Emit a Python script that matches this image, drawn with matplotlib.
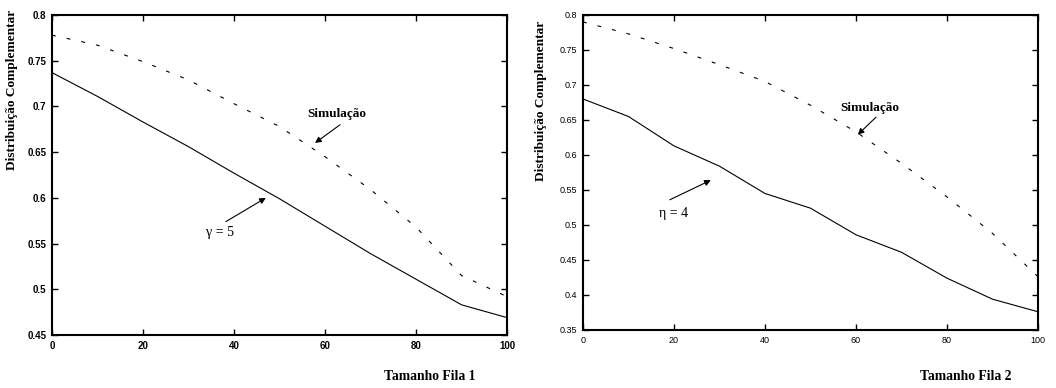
import matplotlib.pyplot as plt

# ===============================
# DATA
# ===============================
fila = [0, 10, 20, 30, 40, 50, 60, 70, 80, 90, 100]

modelo_fila1 = [0.737, 0.711, 0.683, 0.656, 0.627, 0.599, 0.569, 0.539, 0.511, 0.483, 0.469]
simul_fila1 = [0.778, 0.767, 0.749, 0.729, 0.703, 0.678, 0.645, 0.609, 0.568, 0.515, 0.492]

modelo_fila2 = [0.680, 0.655, 0.613, 0.584, 0.545, 0.524, 0.486, 0.461, 0.424, 0.394, 0.376]
simul_fila2 = [0.790, 0.773, 0.752, 0.729, 0.705, 0.671, 0.633, 0.588, 0.540, 0.488, 0.426]

yticks1 = [0.45, 0.5, 0.55, 0.6, 0.65, 0.7, 0.75, 0.8]
yticks2 = [0.35, 0.4, 0.45, 0.5, 0.55, 0.6, 0.65, 0.7, 0.75, 0.8]
xticks = [0, 20, 40, 60, 80, 100]

serif = "Liberation Serif"
sans = "Liberation Sans"

fig = plt.figure(figsize=(10.56, 3.88), dpi=100)
ax1 = fig.add_axes([0.0492, 0.1366, 0.431, 0.8247])
ax2 = fig.add_axes([0.552, 0.1495, 0.431, 0.812])


def style_axes(ax, yticks, ylim, bold, size):
    ax.set_xlim(0, 100)
    ax.set_ylim(*ylim)
    ax.set_xticks(xticks)
    ax.set_yticks(yticks)
    w = "bold" if bold else "normal"
    ax.set_xticklabels([str(t) for t in xticks], fontfamily=sans, fontweight=w, fontsize=size)
    ax.set_yticklabels([f"{t:g}" for t in yticks], fontfamily=sans, fontweight=w, fontsize=size)
    ax.tick_params(direction="in", top=True, right=True, length=4, width=1, pad=4)
    for s in ax.spines.values():
        s.set_linewidth(1.5)


def arrow(ax, tail, head):
    ax.annotate("", xy=head, xytext=tail,
                arrowprops=dict(arrowstyle="-|>", color="black", lw=0.8,
                                mutation_scale=9, shrinkA=0, shrinkB=0))


# ===============================
# LEFT PANEL
# ===============================
ax1.plot(fila, modelo_fila1, color="black", lw=0.8)
ax1.plot(fila, simul_fila1, color="black", lw=0.8, dashes=(3.5, 10))
style_axes(ax1, yticks1, (0.45, 0.8), True, 7)

ax1.text(62.6, 0.692, "Simulação", ha="center", va="center",
         fontfamily=serif, fontweight="bold", fontsize=9.5)
arrow(ax1, (63.3, 0.680), (57.8, 0.660))
ax1.text(36.9, 0.562, "γ = 5", ha="center", va="center", fontfamily=serif, fontsize=10)
arrow(ax1, (38.2, 0.574), (47.0, 0.600))

# ===============================
# RIGHT PANEL
# ===============================
ax2.plot(fila, modelo_fila2, color="black", lw=0.8)
ax2.plot(fila, simul_fila2, color="black", lw=0.8, dashes=(3.5, 10))
style_axes(ax2, yticks2, (0.35, 0.8), False, 6.5)

ax2.text(63.1, 0.667, "Simulação", ha="center", va="center",
         fontfamily=serif, fontweight="bold", fontsize=9.5)
arrow(ax2, (64.4, 0.654), (60.4, 0.629))
ax2.text(20.0, 0.517, "η = 4", ha="center", va="center", fontfamily=serif, fontsize=10)
arrow(ax2, (19.1, 0.536), (28.1, 0.564))

# ===============================
# LABELS
# ===============================
fig.text(12 / 1056, 1 - 90 / 388, "Distribuição Complementar", rotation=90,
         ha="center", va="center", fontfamily=serif, fontweight="bold", fontsize=9.6)
fig.text(541 / 1056, 1 - 101 / 388, "Distribuição Complementar", rotation=90,
         ha="center", va="center", fontfamily=serif, fontweight="bold", fontsize=9.6)

fig.text(430 / 1056, 1 - 377 / 388, "Tamanho Fila 1", ha="center", va="center",
         fontfamily=serif, fontweight="bold", fontsize=9.8)
fig.text(966 / 1056, 1 - 377 / 388, "Tamanho Fila 2", ha="center", va="center",
         fontfamily=serif, fontweight="bold", fontsize=9.8)

plt.savefig("out.png", dpi=100)
plt.close()
